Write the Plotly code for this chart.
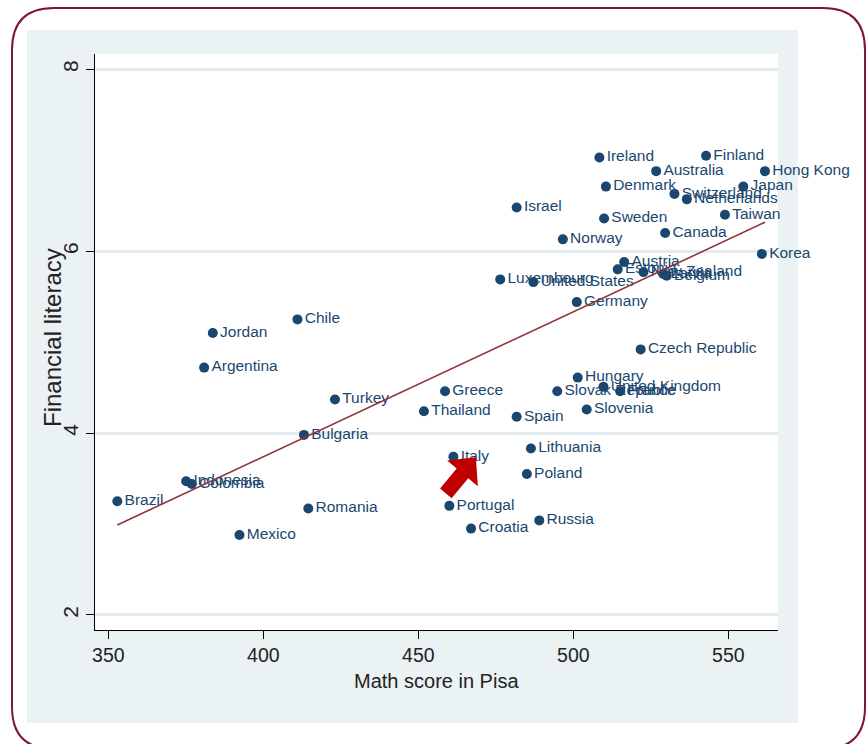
import numpy as np
import plotly.graph_objects as go

# Country-level observations
countries = [
    "Ireland", "Finland", "Australia", "Hong Kong", "Denmark", "Switzerland",
    "Netherlands", "Japan", "Israel", "Sweden", "Taiwan", "Norway", "Canada",
    "Korea", "Luxembourg", "United States", "Austria", "Estonia", "New Zealand",
    "Latvia", "Belgium", "Germany", "Czech Republic", "Hungary", "Greece",
    "Slovak Republic", "United Kingdom", "France", "Thailand", "Spain",
    "Slovenia", "Lithuania", "Italy", "Poland", "Portugal", "Croatia", "Russia",
    "Chile", "Jordan", "Argentina", "Turkey", "Bulgaria", "Indonesia",
    "Colombia", "Brazil", "Romania", "Mexico",
]
math_score = [
    508.4, 542.8, 526.7, 561.8, 510.5, 532.6,
    536.6, 554.8, 481.7, 509.9, 548.9, 496.6, 529.6,
    560.8, 476.4, 487.1, 516.4, 514.3, 522.6,
    529.0, 530.1, 501.1, 521.7, 501.4, 458.6,
    494.8, 509.7, 515.1, 451.8, 481.7,
    504.3, 486.3, 461.3, 485.0, 460.0, 467.0, 489.0,
    411.0, 383.7, 380.9, 423.1, 413.1, 375.1,
    376.9, 352.9, 414.5, 392.3,
]
fin_literacy = [
    7.03, 7.05, 6.88, 6.88, 6.71, 6.63,
    6.57, 6.71, 6.48, 6.36, 6.40, 6.13, 6.20,
    5.97, 5.69, 5.66, 5.88, 5.80, 5.77,
    5.75, 5.73, 5.44, 4.92, 4.61, 4.46,
    4.46, 4.51, 4.46, 4.24, 4.18,
    4.26, 3.83, 3.74, 3.55, 3.20, 2.95, 3.04,
    5.25, 5.10, 4.72, 4.37, 3.98, 3.47,
    3.44, 3.25, 3.17, 2.88,
]
x_ticks = [350, 400, 450, 500, 550]
y_ticks = [2, 4, 6, 8]
highlight = "Italy"

NAVY = "#1a476f"
MAROON = "#90353b"
PANEL = "#eaf2f3"
GRID = "#e2ebee"
FRAME = "#7e1636"
ARROW = "#c00000"
NARROW = "Liberation Sans Narrow, Arial Narrow, Liberation Sans, Arial, sans-serif"
REGULAR = "Liberation Sans, Arial, sans-serif"

W, H = 866, 744
L, R, T, B = 95, 778, 54, 630          # plot area edges in pixels
x_range = [345.7, 566.0]
y_range = [1.835, 8.168]


def to_px(v):
    return (v - L) / (R - L)


def to_py(v):
    return (B - v) / (B - T)


def data_to_pixels(xv, yv):
    xp = L + (xv - x_range[0]) / (x_range[1] - x_range[0]) * (R - L)
    yp = B - (yv - y_range[0]) / (y_range[1] - y_range[0]) * (B - T)
    return xp, yp


def path_from_pixels(points, close=True):
    parts = []
    for cmd, pts in points:
        coords = " ".join(f"{to_px(a):.5f},{to_py(b):.5f}" for a, b in pts)
        parts.append(f"{cmd} {coords}")
    s = " ".join(parts)
    return s + (" Z" if close else "")


# Linear fit of financial literacy on math score
xs = np.array(math_score)
ys = np.array(fin_literacy)
slope, intercept = np.polyfit(xs, ys, 1)
fit_x = np.array([xs.min(), xs.max()])
fit_y = intercept + slope * fit_x

fig = go.Figure()
fig.add_trace(go.Scatter(
    x=math_score, y=fin_literacy, mode="markers+text",
    text=countries, textposition="middle right",
    textfont=dict(family=NARROW, size=15.5, color=NAVY),
    marker=dict(size=10, color=NAVY, line=dict(width=0)),
    hoverinfo="text", showlegend=False, cliponaxis=False,
))
fig.add_trace(go.Scatter(
    x=fit_x, y=fit_y, mode="lines",
    line=dict(color=MAROON, width=1.6),
    hoverinfo="skip", showlegend=False,
))

shapes = []
# grey graph region and white plot region
shapes.append(dict(type="rect", xref="paper", yref="paper",
                   x0=to_px(27), x1=to_px(798), y0=to_py(723), y1=to_py(30),
                   fillcolor=PANEL, line=dict(width=0), layer="below"))
shapes.append(dict(type="rect", xref="paper", yref="paper",
                   x0=0, x1=1, y0=0, y1=1,
                   fillcolor="white", line=dict(width=0), layer="below"))

# rounded outer frame
x0, y0, x1, y1, r = 12, 8, 865, 749, 42
frame = [
    ("M", [(x0 + r, y0)]),
    ("L", [(x1 - r, y0)]),
    ("Q", [(x1, y0), (x1, y0 + r)]),
    ("L", [(x1, y1 - r)]),
    ("Q", [(x1, y1), (x1 - r, y1)]),
    ("L", [(x0 + r, y1)]),
    ("Q", [(x0, y1), (x0, y1 - r)]),
    ("L", [(x0, y0 + r)]),
    ("Q", [(x0, y0), (x0 + r, y0)]),
]
shapes.append(dict(type="path", xref="paper", yref="paper",
                   path=path_from_pixels(frame), line=dict(color=FRAME, width=2),
                   fillcolor="rgba(0,0,0,0)", layer="above"))

# block arrow pointing at the highlighted country
hi = countries.index(highlight)
hx, hy = data_to_pixels(math_score[hi], fin_literacy[hi])
tip = np.array([hx + 22.5, hy + 0.5])
d = np.array([0.64, -0.77])
d = d / np.linalg.norm(d)
n = np.array([-d[1], d[0]])
head_len, head_half, shaft_half, shaft_len = 21, 20, 7.5, 26
base = tip - head_len * d
tail = base - shaft_len * d
poly = [tip, base + head_half * n, base + shaft_half * n, tail + shaft_half * n,
        tail - shaft_half * n, base - shaft_half * n, base - head_half * n]
arrow = [("M", [tuple(poly[0])])] + [("L", [tuple(p)]) for p in poly[1:]]
shapes.append(dict(type="path", xref="paper", yref="paper",
                   path=path_from_pixels(arrow), fillcolor=ARROW,
                   line=dict(width=0), layer="above"))

annotations = [
    dict(text="Math score in Pisa", xref="paper", yref="paper",
         x=0.5, y=to_py(681), xanchor="center", yanchor="middle",
         showarrow=False, font=dict(family=NARROW, size=20, color="#222222")),
    dict(text="Financial literacy", xref="paper", yref="paper",
         x=to_px(52), y=to_py(338), xanchor="center", yanchor="middle",
         textangle=-90, showarrow=False,
         font=dict(family=REGULAR, size=24, color="#222222")),
]

fig.update_layout(
    width=W, height=H,
    margin=dict(l=L, r=W - R, t=T, b=H - B, pad=0),
    paper_bgcolor="white", plot_bgcolor="white",
    shapes=shapes, annotations=annotations,
    xaxis=dict(range=x_range, tickvals=x_ticks, ticktext=[str(v) for v in x_ticks],
               showgrid=False, zeroline=False, showline=True, linecolor="black",
               linewidth=1, ticks="outside", ticklen=8, tickcolor="black",
               tickfont=dict(family=NARROW, size=19.5, color="#222222")),
    yaxis=dict(range=y_range, tickvals=y_ticks, ticktext=[str(v) for v in y_ticks],
               showgrid=True, gridcolor=GRID, gridwidth=3, zeroline=False,
               showline=True, linecolor="black", linewidth=1, ticks="outside",
               ticklen=8, tickcolor="black", tickangle=-90,
               tickfont=dict(family=REGULAR, size=21, color="#222222")),
)

fig.write_html("out.html")
